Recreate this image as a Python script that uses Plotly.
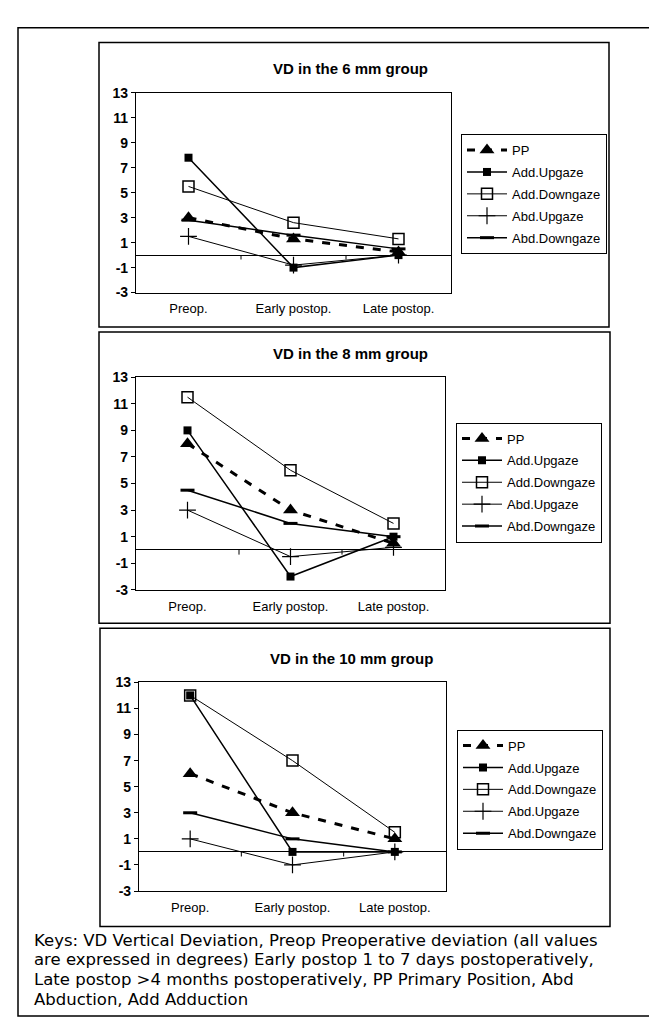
import plotly.graph_objects as go

# ---------------- data ----------------
categories = ["Preop.", "Early postop.", "Late postop."]
group_titles = ["VD in the 6 mm group", "VD in the 8 mm group", "VD in the 10 mm group"]
series_names = ["PP", "Add.Upgaze", "Add.Downgaze", "Abd.Upgaze", "Abd.Downgaze"]

pp_6 = [3.0, 1.3, 0.25]
add_up_6 = [7.8, -1.0, 0.0]
add_down_6 = [5.5, 2.6, 1.3]
abd_up_6 = [1.5, -0.8, 0.0]
abd_down_6 = [2.8, 1.6, 0.5]

pp_8 = [8.0, 3.0, 0.5]
add_up_8 = [9.0, -2.0, 1.0]
add_down_8 = [11.5, 6.0, 2.0]
abd_up_8 = [3.0, -0.5, 0.2]
abd_down_8 = [4.5, 2.0, 1.0]

pp_10 = [6.0, 3.0, 1.0]
add_up_10 = [12.0, 0.0, 0.0]
add_down_10 = [12.0, 7.0, 1.5]
abd_up_10 = [1.0, -1.0, 0.0]
abd_down_10 = [3.0, 1.0, 0.0]

y_ticks = [-3, -1, 1, 3, 5, 7, 9, 11, 13]
y_tick_labels = ["-3", "-1", "1", "3", "5", "7", "9", "11", "13"]

caption_lines = [
    "Keys: VD Vertical Deviation, Preop Preoperative deviation (all values",
    "are expressed in degrees) Early postop 1 to 7 days postoperatively,",
    "Late postop >4 months postoperatively, PP Primary Position, Abd",
    "Abduction, Add Adduction",
]

panels = [
    [pp_6, add_up_6, add_down_6, abd_up_6, abd_down_6],
    [pp_8, add_up_8, add_down_8, abd_up_8, abd_down_8],
    [pp_10, add_up_10, add_down_10, abd_up_10, abd_down_10],
]

# ---------------- layout geometry (pixels) ----------------
W, H = 657, 1018
def px_x(v):
    return v / W
def px_y(v):
    return 1 - v / H

plot_boxes = [  # left, right, top, bottom
    (128, 443, 78, 281),
    (128, 437, 367, 583),
    (131, 438, 677, 889),
]
panel_boxes = [
    (91, 601, 27, 316),
    (91, 602, 321, 617),
    (92, 602, 622, 925),
]
title_y = [53, 343, 653]
legend_pos = [(453, 120), (448, 413), (449, 725)]

FONT = "Liberation Sans, Arial, sans-serif"

styles = [
    dict(line=dict(color="black", width=3, dash="8px,9px"),
         marker=dict(symbol="triangle-up", size=13, color="black")),
    dict(line=dict(color="black", width=1.5),
         marker=dict(symbol="square", size=8, color="black")),
    dict(line=dict(color="black", width=1),
         marker=dict(symbol="square-open", size=11, color="black", line=dict(width=1.5, color="black"))),
    dict(line=dict(color="black", width=1),
         marker=dict(symbol="cross-thin", size=12, color="black", line=dict(width=1.2, color="black"))),
    dict(line=dict(color="black", width=1.5),
         marker=dict(symbol="line-ew", size=10, color="black", line=dict(width=3, color="black"))),
]

fig = go.Figure()
layout = {}
shapes = []
annotations = []

for i, series in enumerate(panels):
    n = "" if i == 0 else str(i + 1)
    xa, ya = "x" + n, "y" + n
    leg = "legend" + n
    for name, vals, st in zip(series_names, series, styles):
        fig.add_trace(go.Scatter(
            x=categories, y=vals, name=name, mode="lines+markers",
            xaxis=xa, yaxis=ya, legend=leg, legendgroup=f"{i}_{name}",
            line=st["line"], marker=st["marker"], cliponaxis=False,
        ))
    l, r, t, b = plot_boxes[i]
    layout["xaxis" + n] = dict(
        domain=[px_x(l), px_x(r)], anchor=ya, type="category",
        categoryorder="array", categoryarray=categories, range=[-0.5, 2.5],
        showline=True, mirror=True, linecolor="black", linewidth=1.2,
        ticks="", showgrid=False, zeroline=False,
        tickfont=dict(family=FONT, size=13, color="black"), ticklabelstandoff=4,
    )
    layout["yaxis" + n] = dict(
        domain=[px_y(b), px_y(t)], anchor=xa, range=[-3, 13],
        tickvals=y_ticks, ticktext=["<b>%s</b>" % s for s in y_tick_labels],
        ticks="outside", ticklen=4, tickcolor="black",
        showline=True, mirror=True, linecolor="black", linewidth=1.2,
        showgrid=False, zeroline=True, zerolinecolor="black", zerolinewidth=1,
        tickfont=dict(family=FONT, size=14, color="black"),
    )
    lx, ly = legend_pos[i]
    layout[leg] = dict(
        x=px_x(lx), y=px_y(ly), xanchor="left", yanchor="top",
        bordercolor="black", borderwidth=1, bgcolor="white",
        font=dict(family=FONT, size=13, color="black"),
        traceorder="grouped", tracegroupgap=2, itemwidth=40,
    )
    # category-boundary tick marks on the zero line
    for xb in (0.5, 1.5):
        shapes.append(dict(type="line", xref=xa, yref=ya, x0=xb, x1=xb, y0=0, y1=-0.35,
                           line=dict(color="black", width=1)))
    pl, pr, pt, pb = panel_boxes[i]
    shapes.append(dict(type="rect", xref="paper", yref="paper",
                       x0=px_x(pl), x1=px_x(pr), y0=px_y(pb), y1=px_y(pt),
                       line=dict(color="black", width=1.5)))
    annotations.append(dict(text="<b>%s</b>" % group_titles[i], xref="paper", yref="paper",
                            x=px_x((pl + pr) / 2 - 4), y=px_y(title_y[i]),
                            xanchor="center", yanchor="middle", showarrow=False,
                            font=dict(family=FONT, size=15, color="black")))

# outer frame
shapes.append(dict(type="rect", xref="paper", yref="paper",
                   x0=px_x(10), x1=px_x(655), y0=px_y(1016), y1=px_y(12),
                   line=dict(color="black", width=1.5)))

cap_y = [939, 959, 979, 999]
for line_text, yy in zip(caption_lines, cap_y):
    annotations.append(dict(text=line_text, xref="paper", yref="paper",
                            x=px_x(24), y=px_y(yy), xanchor="left", yanchor="middle",
                            showarrow=False,
                            font=dict(family="DejaVu Sans, sans-serif", size=16.5, color="black")))

fig.update_layout(
    width=W, height=H, margin=dict(l=0, r=0, t=0, b=0),
    paper_bgcolor="white", plot_bgcolor="white",
    shapes=shapes, annotations=annotations, **layout,
)

fig.write_html("out.html")
